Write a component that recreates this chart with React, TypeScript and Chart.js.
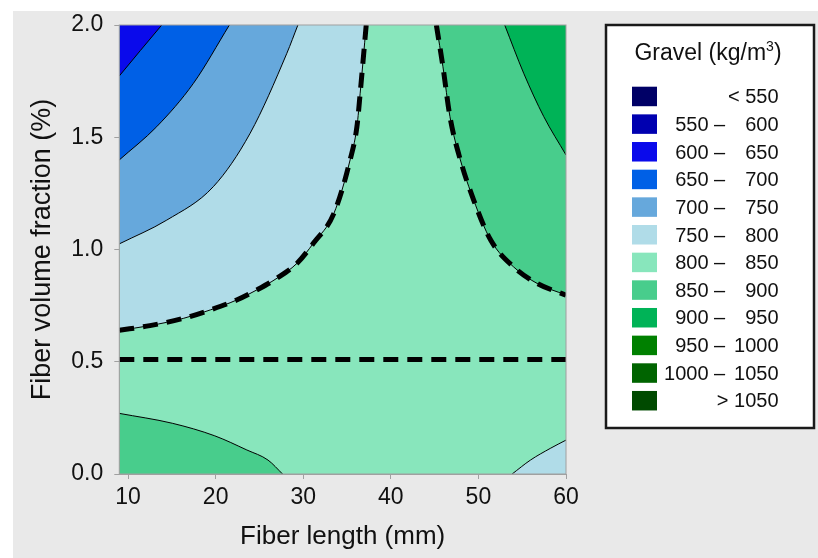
import React, { useEffect, useRef } from "react";
import { Chart, registerables } from "chart.js";

Chart.register(...registerables);

const FONT = "'Liberation Sans', Arial, sans-serif";

// axes
const xMin = 9;
const xMax = 60;
const xTicks = [10, 20, 30, 40, 50, 60];
const yTicks = [0, 0.5, 1.0, 1.5, 2.0];

// legend bands
const bandLabels = [
  "< 550",
  "550 – 600",
  "600 – 650",
  "650 – 700",
  "700 – 750",
  "750 – 800",
  "800 – 850",
  "850 – 900",
  "900 – 950",
  "950 – 1000",
  "1000 – 1050",
  "> 1050",
];
const bandColors = [
  "#000066",
  "#0000b0",
  "#0a0aeb",
  "#0060e6",
  "#66a8dc",
  "#b0dce8",
  "#88e6bc",
  "#48cd8c",
  "#00b357",
  "#008000",
  "#006400",
  "#004a00",
];

// contour boundaries, [fiber length, fiber volume fraction]
const baseEdge = [[9, 0], [60, 0]];
const edge600 = [[9, 1.773], [11.4, 1.886], [13.85, 2.0]];
const edge650 = [[9, 1.399], [13.27, 1.547], [17.46, 1.74], [21.57, 2.0]];
const edge700 = [[9, 1.025], [14.42, 1.131], [19.74, 1.28], [23.94, 1.518], [28.13, 1.874], [29.39, 2.0]];
const edge800Left = [
  [9, 0.64], [12.5, 0.661], [16.3, 0.693], [19.4, 0.731], [22.4, 0.775], [24.7, 0.82],
  [27, 0.872], [29.3, 0.939], [31.2, 1.03], [33.5, 1.161], [35.35, 1.399], [36.13, 1.547],
  [36.5, 1.696], [37.19, 2.0],
];
const edge850Right = [
  [45.2, 2.0], [45.95, 1.814], [46.75, 1.592], [47.94, 1.399], [49.46, 1.22], [51.4, 1.042],
  [54.0, 0.923], [56.7, 0.849], [60, 0.797],
];
const edge900Right = [[53.0, 2.0], [55.17, 1.785], [57.46, 1.592], [60, 1.421]];
const edge850BottomLeft = [[9, 0.27], [15.05, 0.226], [19.9, 0.17], [23.56, 0.107], [25.98, 0.062], [27.64, 0]];
const edge800BottomRight = [[53.85, 0], [55.94, 0.062], [58.2, 0.114], [60, 0.151]];
const limitLine = [[9, 0.51], [60, 0.51]];

const pts = (arr: number[][]) => arr.map(([x, y]) => ({ x, y }));

const dashed = (arr: number[][]) => ({
  data: pts(arr),
  showLine: true,
  fill: false,
  borderColor: "#000",
  borderWidth: 5,
  borderDash: [15, 9],
  borderCapStyle: "butt",
  cubicInterpolationMode: "monotone",
  pointRadius: 0,
  clip: 0,
});

const region = (arr: number[][], band: number, fill: string, line = true) => ({
  data: pts(arr),
  showLine: true,
  fill,
  backgroundColor: bandColors[band],
  borderColor: line ? "#000" : "rgba(0,0,0,0)",
  borderWidth: line ? 1 : 0,
  cubicInterpolationMode: "monotone",
  pointRadius: 0,
  clip: 0,
});

const decor = {
  id: "decor",
  beforeDraw(chart: any) {
    const { ctx, width, height } = chart;
    ctx.save();
    ctx.fillStyle = "#ffffff";
    ctx.fillRect(0, 0, width, height);
    ctx.fillStyle = "#e9e9e9";
    ctx.fillRect(13, 11, width - 13, height - 11);
    ctx.restore();
  },
  afterDraw(chart: any) {
    const { ctx, chartArea: a } = chart;
    ctx.save();
    ctx.strokeStyle = "#a0a0a0";
    ctx.lineWidth = 1;
    ctx.strokeRect(a.left, a.top, a.right - a.left, a.bottom - a.top);

    // legend box
    const L = 606, T = 25, R = 814, B = 428;
    ctx.fillStyle = "#ffffff";
    ctx.fillRect(L, T, R - L, B - T);
    ctx.strokeStyle = "#1a1a1a";
    ctx.lineWidth = 2.5;
    ctx.strokeRect(L, T, R - L, B - T);

    // title
    ctx.fillStyle = "#111";
    ctx.textBaseline = "alphabetic";
    ctx.textAlign = "left";
    const t1 = "Gravel (kg/m";
    const t2 = "3";
    const t3 = ")";
    ctx.font = `23px ${FONT}`;
    const w1 = ctx.measureText(t1).width;
    const w3 = ctx.measureText(t3).width;
    ctx.font = `14px ${FONT}`;
    const w2 = ctx.measureText(t2).width;
    let x = 708 - (w1 + w2 + w3) / 2;
    const by = 59.5;
    ctx.font = `23px ${FONT}`;
    ctx.fillText(t1, x, by);
    x += w1;
    ctx.font = `14px ${FONT}`;
    ctx.fillText(t2, x, by - 9);
    x += w2;
    ctx.font = `23px ${FONT}`;
    ctx.fillText(t3, x, by);

    // rows
    ctx.font = `20px ${FONT}`;
    ctx.textBaseline = "middle";
    bandLabels.forEach((lab, i) => {
      const y = 86.7 + i * 27.66;
      ctx.fillStyle = bandColors[i];
      ctx.fillRect(632, y, 25, 19.5);
      const cy = y + 11;
      ctx.fillStyle = "#111";
      const parts = lab.split(" – ");
      if (parts.length === 2) {
        ctx.textAlign = "right";
        ctx.fillText(parts[0], 708.5, cy);
        ctx.textAlign = "center";
        ctx.fillText("–", 719.5, cy);
        ctx.textAlign = "right";
        ctx.fillText(parts[1], 778.5, cy);
      } else {
        ctx.textAlign = "right";
        ctx.fillText(lab, 778.5, cy);
      }
    });
    ctx.restore();
  },
};

export default function App() {
  const ref = useRef<HTMLCanvasElement>(null);

  useEffect(() => {
    document.body.style.margin = "0";
    const canvas = ref.current;
    if (!canvas) return;
    const chart = new Chart(canvas, {
      type: "scatter",
      data: {
        datasets: [
          dashed(limitLine),
          dashed(edge800Left),
          dashed(edge850Right),
          region(edge600, 2, "end"),
          region(edge650, 3, "end"),
          region(edge700, 4, "end"),
          region(edge800Left, 5, "end"),
          region(edge900Right, 8, "end"),
          region(edge850Right, 7, "end"),
          region(edge850BottomLeft, 7, "start"),
          region(edge800BottomRight, 5, "start"),
          region(baseEdge, 6, "end", false),
        ] as any,
      },
      options: {
        responsive: false,
        animation: false,
        devicePixelRatio: 1,
        events: [],
        layout: { padding: { top: 25, right: 252, bottom: 0, left: 0 } },
        plugins: {
          legend: { display: false },
          tooltip: { enabled: false },
          filler: { drawTime: "beforeDatasetsDraw" },
        } as any,
        scales: {
          x: {
            type: "linear",
            min: xMin,
            max: xMax,
            afterBuildTicks: (s: any) => {
              s.ticks = xTicks.map((v) => ({ value: v }));
            },
            afterFit: (s: any) => {
              s.height = 84;
            },
            grid: { drawOnChartArea: false, drawTicks: true, tickLength: 5, color: "#a0a0a0" },
            border: { display: true, color: "#a0a0a0" },
            ticks: {
              font: { family: FONT, size: 23 },
              color: "#111",
              padding: 5,
              maxRotation: 0,
              autoSkip: false,
              callback: (v: any) => String(v),
            },
            title: {
              display: true,
              text: "Fiber length (mm)",
              font: { family: FONT, size: 26 },
              color: "#111",
              padding: { top: 0, bottom: 5.7 },
            },
          },
          y: {
            type: "linear",
            min: 0,
            max: 2,
            afterBuildTicks: (s: any) => {
              s.ticks = yTicks.map((v) => ({ value: v }));
            },
            afterFit: (s: any) => {
              s.width = 119.3;
            },
            grid: { drawOnChartArea: false, drawTicks: true, tickLength: 5, color: "#a0a0a0" },
            border: { display: true, color: "#a0a0a0" },
            ticks: {
              font: { family: FONT, size: 23 },
              color: "#111",
              padding: 11,
              autoSkip: false,
              callback: (v: any) => Number(v).toFixed(1),
            },
            title: {
              display: true,
              text: "Fiber volume fraction (%)",
              font: { family: FONT, size: 27 },
              color: "#111",
              padding: { top: 26.3, bottom: 0 },
            },
          },
        },
      },
      plugins: [decor],
    });
    return () => chart.destroy();
  }, []);

  return (
    <div style={{ width: 818, height: 558 }}>
      <canvas ref={ref} width={818} height={558} style={{ display: "block" }} />
    </div>
  );
}
